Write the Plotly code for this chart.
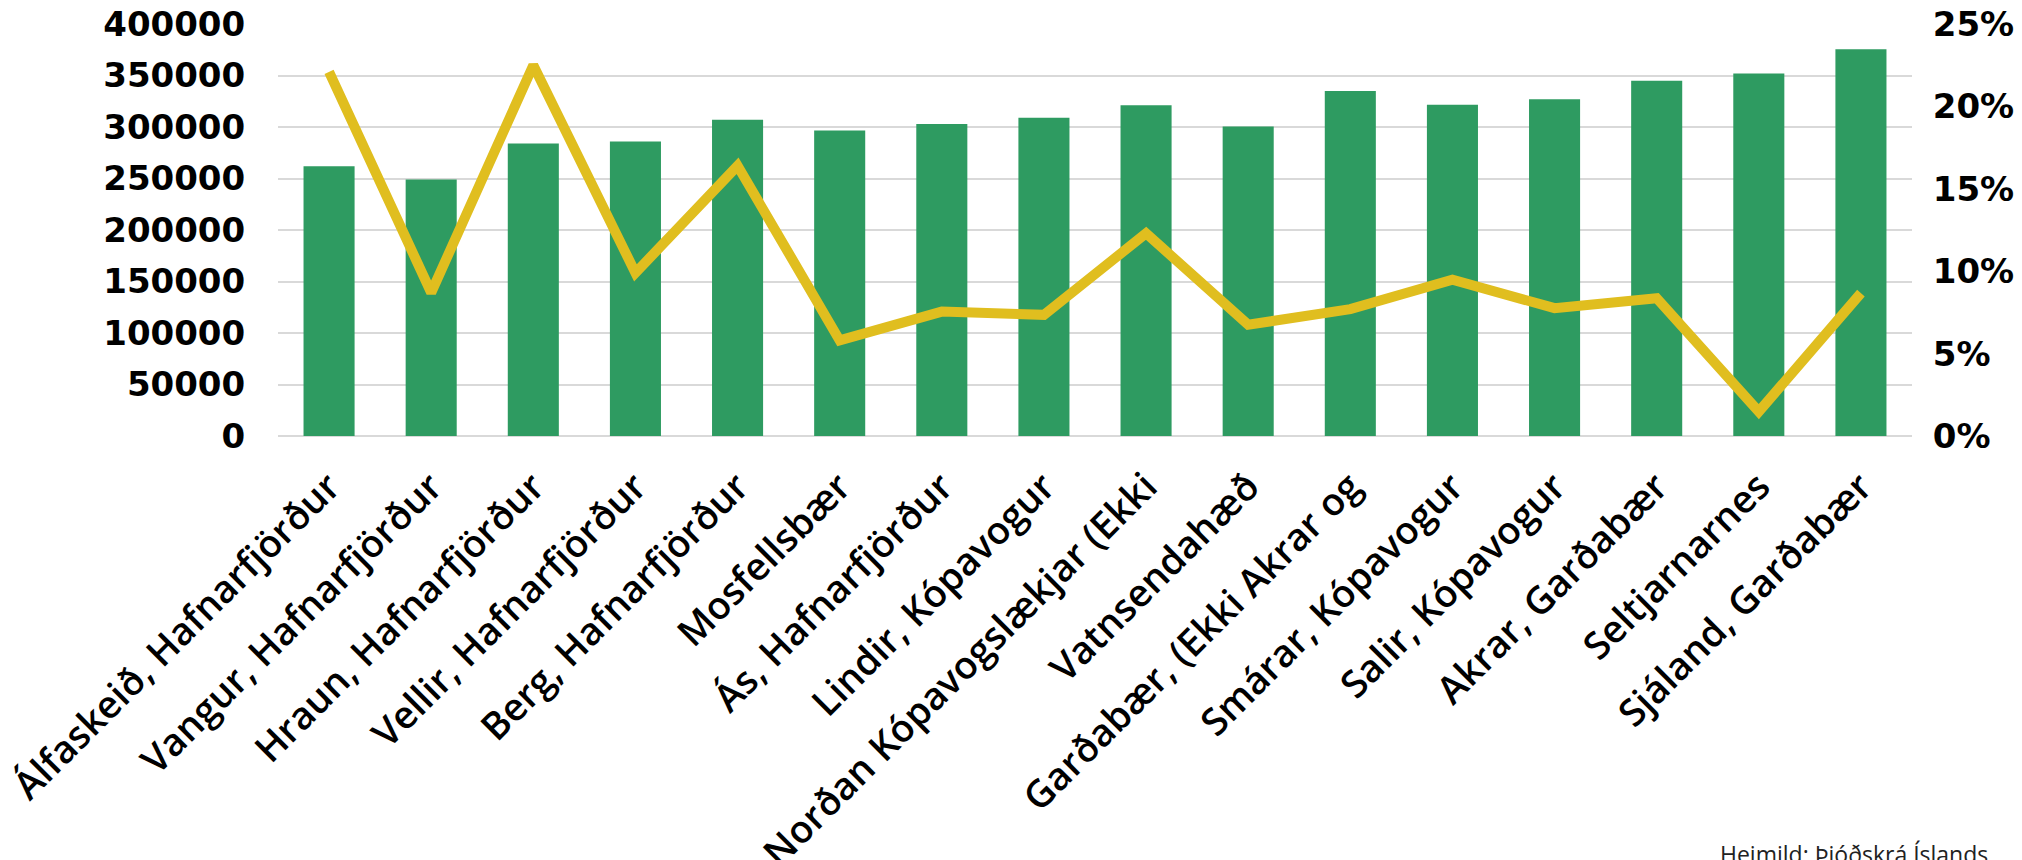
import plotly.graph_objects as go

categories = [
    "Álfaskeið, Hafnarfjörður",
    "Vangur, Hafnarfjörður",
    "Hraun, Hafnarfjörður",
    "Vellir, Hafnarfjörður",
    "Berg, Hafnarfjörður",
    "Mosfellsbær",
    "Ás, Hafnarfjörður",
    "Lindir, Kópavogur",
    "Norðan Kópavogslækjar (Ekki",
    "Vatnsendahæð",
    "Garðabær, (Ekki Akrar og",
    "Smárar, Kópavogur",
    "Salir, Kópavogur",
    "Akrar, Garðabær",
    "Seltjarnarnes",
    "Sjáland, Garðabær",
]
price_values = [262000, 249000, 284000, 286000, 307000, 296500, 303000, 309000,
                321000, 300500, 335000, 321500, 327000, 345000, 352000, 375500]
change_values = [0.221, 0.087, 0.225, 0.099, 0.164, 0.058, 0.0755, 0.0735,
                 0.123, 0.0675, 0.077, 0.0948, 0.0776, 0.0836, 0.0148, 0.0867]
left_ticks = [0, 50000, 100000, 150000, 200000, 250000, 300000, 350000, 400000]
right_ticks = [0, 0.05, 0.10, 0.15, 0.20, 0.25]
source_text = "Heimild: Þjóðskrá Íslands"

W, H = 2022, 860
L, R, T, B = 278, 110, 24, 424

fig = go.Figure()
fig.add_trace(go.Bar(
    x=categories, y=price_values, marker=dict(color="#2E9B61", line=dict(width=0)),
    yaxis="y", showlegend=False,
))
fig.add_trace(go.Scatter(
    x=categories, y=change_values, mode="lines",
    line=dict(color="#E0BE1F", width=10),
    yaxis="y2", showlegend=False,
))

tickfont = dict(family="DejaVu Sans", size=34, color="#000000", weight="bold")

fig.update_layout(
    width=W, height=H,
    margin=dict(l=L, r=R, t=T, b=B, autoexpand=False),
    paper_bgcolor="white", plot_bgcolor="white",
    bargap=0.5,
    xaxis=dict(
        type="category", tickangle=-45, automargin=False,
        showgrid=False, showline=False, zeroline=False,
        ticks="outside", ticklen=12, tickcolor="rgba(0,0,0,0)",
        tickfont=dict(family="Open Sans", size=38, color="#000000", weight=600),
    ),
    yaxis=dict(
        range=[0, 400000], tickvals=left_ticks, tickformat="d",
        showgrid=True, gridcolor="#D9D9D9", gridwidth=2,
        zeroline=True, zerolinecolor="#D9D9D9", zerolinewidth=2,
        showline=False, automargin=False,
        ticks="outside", ticklen=25, tickcolor="rgba(0,0,0,0)",
        tickfont=tickfont,
    ),
    yaxis2=dict(
        range=[0, 0.25], tickvals=right_ticks, tickformat=".0%",
        overlaying="y", side="right", showgrid=False, zeroline=False,
        showline=False, automargin=False,
        ticks="outside", ticklen=13, tickcolor="rgba(0,0,0,0)",
        tickfont=tickfont,
    ),
    annotations=[dict(
        text=source_text, xref="paper", yref="paper",
        x=(1990 - L) / (W - L - R), y=-(836 - (H - B)) / (H - T - B),
        xanchor="right", yanchor="top", showarrow=False,
        font=dict(family="Open Sans", size=23, color="#222222"),
    )],
)

fig.write_html("out.html")
